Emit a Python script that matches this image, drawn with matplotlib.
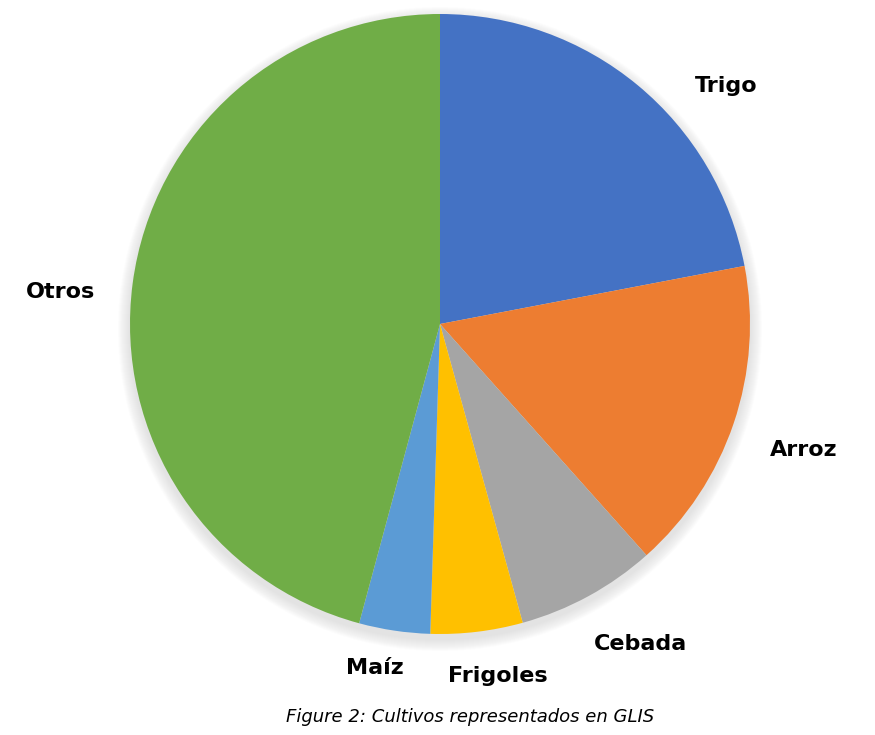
import numpy as np
import matplotlib.pyplot as plt
from matplotlib.patches import Circle

# shares (percent)
crops = ['Trigo', 'Arroz', 'Cebada', 'Frigoles', 'Maíz', 'Otros']
shares = [22.0, 16.4, 7.3, 4.8, 3.7, 45.8]
colors = ['#4472C4', '#ED7D31', '#A5A5A5', '#FFC000', '#5B9BD5', '#70AD47']
caption = 'Figure 2: Cultivos representados en GLIS'

W, H = 875, 735
fig = plt.figure(figsize=(W / 100, H / 100), dpi=100)
ax = fig.add_axes([0, 0, 1, 1])

cx, cy, r = 440, H - 324, 310

# soft shadow under the pie
for i in range(12):
    ax.add_patch(Circle((cx, cy - 5), r + 12 - i, color='#a0a0a0',
                        alpha=0.025, lw=0, zorder=0))

wedges, _ = ax.pie(shares, colors=colors, startangle=90, counterclock=False,
                   center=(cx, cy), radius=r, frame=True,
                   wedgeprops=dict(linewidth=0))
ax.set_xlim(0, W)
ax.set_ylim(0, H)
ax.set_aspect('equal')
ax.axis('off')

# label placement: (angle in degrees, distance in radii) from pie centre
label_pos = [(39.7, 1.20), (-19.1, 1.24), (-57.9, 1.22), (-80.6, 1.15),
             (-100.7, 1.13), (175.2, 1.23)]
for name, (ang, dist) in zip(crops, label_pos):
    a = np.deg2rad(ang)
    ax.text(cx + dist * r * np.cos(a), cy + dist * r * np.sin(a), name,
            ha='center', va='center', fontsize=16, fontweight='bold',
            family='DejaVu Sans', color='black')

ax.text(cx + 30, H - 717, caption, ha='center', va='center', fontsize=13,
        style='italic', family='DejaVu Sans', color='black')

fig.savefig('out.png', dpi=100)
